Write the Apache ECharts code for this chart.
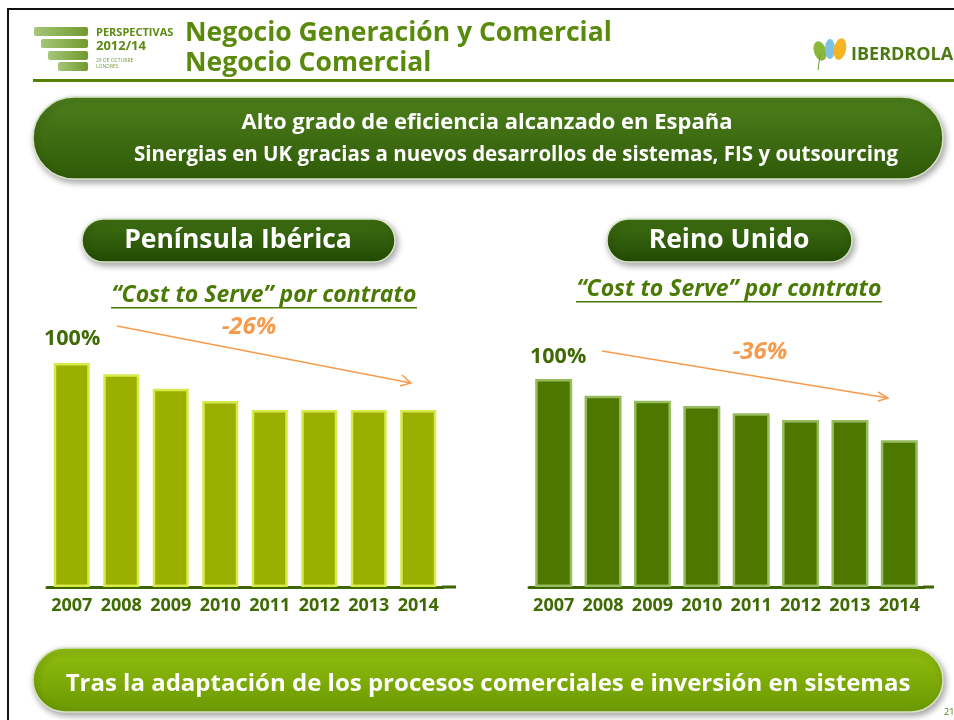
<!DOCTYPE html>
<html>
<head>
<meta charset="utf-8">
<script src="https://cdn.jsdelivr.net/npm/echarts@6/dist/echarts.min.js"></script>
<style>
  html, body { margin: 0; padding: 0; background: #fff; }
  #chart { width: 954px; height: 720px; }
</style>
</head>
<body>
<div id="chart"></div>
<script>
  // datos (% respecto a 2007)
  var years = ['2007', '2008', '2009', '2010', '2011', '2012', '2013', '2014'];
  var iberiaValues = [100, 95, 88.5, 83, 79, 79, 79, 79];
  var ukValues = [100, 92, 89.5, 87, 83.5, 80.3, 80.3, 70.5];

  var font = '"Open Sans"';
  var darkGreen = '#3f6a04';

  function pill(x, y, w, h, c1, c2, z) {
    return {
      type: 'rect', z: z || 1,
      shape: { x: x, y: y, width: w, height: h, r: h / 2 },
      style: {
        fill: new echarts.graphic.LinearGradient(0, 0, 0, 1, [
          { offset: 0, color: c1 }, { offset: 1, color: c2 }
        ]),
        stroke: '#d8e4c8', lineWidth: 1.5,
        shadowBlur: 6, shadowOffsetX: 2, shadowOffsetY: 3, shadowColor: 'rgba(0,0,0,0.35)'
      }
    };
  }

  function txt(x, y, text, size, color, extra) {
    var st = {
      x: x, y: y, text: text, fill: color,
      font: 'bold ' + size + 'px ' + font,
      textAlign: 'left', textVerticalAlign: 'middle'
    };
    for (var k in extra) st[k] = extra[k];
    return { type: 'text', z: 10, style: st };
  }

  var myChart = echarts.init(document.getElementById('chart'));

  var graphics = [
    // marco
    { type: 'polyline', shape: { points: [[8, 720], [8, 9], [954, 9]] }, style: { stroke: '#111', lineWidth: 2, fill: null } },
    // logo perspectivas
    { type: 'rect', shape: { x: 34, y: 27, width: 54, height: 9, r: 2 }, style: { fill: new echarts.graphic.LinearGradient(0, 0, 1, 0, [{ offset: 0, color: '#a6c57a' }, { offset: 1, color: '#6f9a2c' }]) } },
    { type: 'rect', shape: { x: 41, y: 39, width: 47, height: 9, r: 2 }, style: { fill: new echarts.graphic.LinearGradient(0, 0, 1, 0, [{ offset: 0, color: '#a6c57a' }, { offset: 1, color: '#6f9a2c' }]) } },
    { type: 'rect', shape: { x: 48, y: 51, width: 40, height: 9, r: 2 }, style: { fill: new echarts.graphic.LinearGradient(0, 0, 1, 0, [{ offset: 0, color: '#a6c57a' }, { offset: 1, color: '#6f9a2c' }]) } },
    { type: 'rect', shape: { x: 58, y: 62, width: 30, height: 9, r: 2 }, style: { fill: new echarts.graphic.LinearGradient(0, 0, 1, 0, [{ offset: 0, color: '#a6c57a' }, { offset: 1, color: '#6f9a2c' }]) } },
    txt(96, 33, 'PERSPECTIVAS', 11, '#5c8a12', { font: 'bold 11px "Liberation Sans Narrow", ' + font }),
    txt(96, 46, '2012/14', 13, '#5c8a12', { font: 'bold 13px "Liberation Sans Narrow", ' + font }),
    txt(96, 61, '29 DE OCTUBRE', 5, '#7a9a40', { font: '5px ' + font }),
    txt(96, 67, 'LONDRES', 5, '#7a9a40', { font: '5px ' + font }),
    // titulo
    txt(185, 33, 'Negocio Generación y Comercial', 26.5, '#5a8a0c'),
    txt(185, 63, 'Negocio Comercial', 26.5, '#5a8a0c'),
    { type: 'rect', shape: { x: 33, y: 79, width: 921, height: 3 }, style: { fill: '#5a8000' } },
    // logo iberdrola
    { type: 'ellipse', shape: { cx: 820, cy: 51, rx: 6, ry: 10 }, style: { fill: '#8bb83a' }, rotation: 0.3, originX: 820, originY: 51 },
    { type: 'ellipse', shape: { cx: 830, cy: 49, rx: 5, ry: 10 }, style: { fill: '#7fc0e6' } },
    { type: 'ellipse', shape: { cx: 840, cy: 49, rx: 6, ry: 11 }, style: { fill: '#f6b422' }, rotation: -0.2, originX: 840, originY: 49 },
    { type: 'line', shape: { x1: 820, y1: 55, x2: 818, y2: 70 }, style: { stroke: '#6d9a2a', lineWidth: 1 } },
    txt(851, 55, 'IBERDROLA', 18, '#4c7a10', { font: 'bold 18px ' + font, textShadowColor: 'rgba(0,0,0,0.25)', textShadowOffsetX: 1, textShadowOffsetY: 2 }),
    // banner superior
    pill(33, 97, 910, 82, '#4d7f1c', '#2f5a08'),
    txt(487, 123, 'Alto grado de eficiencia alcanzado en España', 22, '#ffffff', { textAlign: 'center' }),
    txt(516, 155, 'Sinergias en UK gracias a nuevos desarrollos de sistemas, FIS y outsourcing', 20.5, '#ffffff', { textAlign: 'center' }),
    // botones
    pill(82, 219, 313, 43, '#3f7012', '#234a04'),
    txt(238, 240, 'Península Ibérica', 26.5, '#ffffff', { textAlign: 'center' }),
    pill(607, 219, 245, 43, '#3f7012', '#234a04'),
    txt(729, 240, 'Reino Unido', 26.5, '#ffffff', { textAlign: 'center' }),
    // subtitulos
    txt(264, 295, '“Cost to Serve” por contrato', 23, '#4a7a04', { textAlign: 'center', font: 'italic bold 23px ' + font }),
    { type: 'rect', z: 10, shape: { x: 111, y: 307, width: 306, height: 1.5 }, style: { fill: '#4a7a04' } },
    txt(729, 289, '“Cost to Serve” por contrato', 23, '#4a7a04', { textAlign: 'center', font: 'italic bold 23px ' + font }),
    { type: 'rect', z: 10, shape: { x: 576, y: 301, width: 306, height: 1.5 }, style: { fill: '#4a7a04' } },
    // flechas
    { type: 'line', z: 10, shape: { x1: 117, y1: 326, x2: 411, y2: 383 }, style: { stroke: '#f79a4c', lineWidth: 1.5 } },
    { type: 'polyline', z: 10, shape: { points: [[402, 375], [411, 383], [400, 386]] }, style: { stroke: '#f79a4c', lineWidth: 1.5, fill: null } },
    txt(249, 327, '-26%', 24, '#f79a4c', { textAlign: 'center', font: 'italic bold 24px ' + font }),
    { type: 'line', z: 10, shape: { x1: 602, y1: 351, x2: 888, y2: 398 }, style: { stroke: '#f79a4c', lineWidth: 1.5 } },
    { type: 'polyline', z: 10, shape: { points: [[878, 392], [888, 398], [878, 401]] }, style: { stroke: '#f79a4c', lineWidth: 1.5, fill: null } },
    txt(760, 352, '-36%', 24, '#f79a4c', { textAlign: 'center', font: 'italic bold 24px ' + font }),
    // etiquetas 100%
    txt(44, 339, '100%', 21.5, darkGreen),
    txt(530, 357, '100%', 21.5, darkGreen),
    // prolongacion de la linea base a la derecha
    { type: 'line', z: 5, shape: { x1: 442, y1: 587, x2: 456, y2: 587 }, style: { stroke: '#3d6600', lineWidth: 3 } },
    { type: 'line', z: 5, shape: { x1: 923, y1: 587, x2: 934, y2: 587 }, style: { stroke: '#3d6600', lineWidth: 3 } },
    // banner inferior
    pill(33, 648, 910, 64, '#92bf10', '#6a9800'),
    txt(488, 684, 'Tras la adaptación de los procesos comerciales e inversión en sistemas', 24, '#ffffff', { textAlign: 'center' }),
    txt(944, 712, '21', 9, '#4a7a04', { font: '9px ' + font })
  ];

  function xAxisFor(gridIndex) {
    return {
      type: 'category', gridIndex: gridIndex, data: years,
      axisLine: { lineStyle: { color: '#3d6600', width: 3 } },
      axisTick: { show: false },
      axisLabel: { interval: 0, color: darkGreen, fontFamily: font, fontWeight: 'bold', fontSize: 18, margin: 10 }
    };
  }
  function yAxisFor(gridIndex) {
    return {
      type: 'value', gridIndex: gridIndex, min: 0, max: 100,
      show: false, splitLine: { show: false }
    };
  }

  myChart.setOption({
    animation: false,
    backgroundColor: '#ffffff',
    grid: [
      { left: 47, width: 396, top: 363, bottom: 133 },
      { left: 529, width: 395, top: 379, bottom: 133 }
    ],
    xAxis: [xAxisFor(0), xAxisFor(1)],
    yAxis: [yAxisFor(0), yAxisFor(1)],
    series: [
      {
        name: 'Península Ibérica', type: 'bar', xAxisIndex: 0, yAxisIndex: 0,
        data: iberiaValues, barWidth: 36,
        itemStyle: { color: '#9aaf00', borderColor: '#d6ea4c', borderWidth: 2.5 }
      },
      {
        name: 'Reino Unido', type: 'bar', xAxisIndex: 1, yAxisIndex: 1,
        data: ukValues, barWidth: 37,
        itemStyle: { color: '#4c7800', borderColor: '#97bc5c', borderWidth: 2.5 }
      }
    ],
    graphic: graphics
  });
</script>
</body>
</html>
